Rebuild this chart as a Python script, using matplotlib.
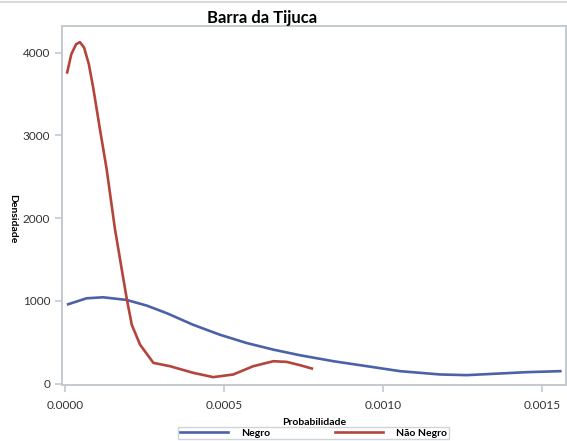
import matplotlib
matplotlib.use("Agg")
import matplotlib.pyplot as plt
from matplotlib.lines import Line2D

# Negro (blue) density curve
negro_x = [0.00001, 0.000068, 0.00012, 0.000194, 0.000257, 0.00032, 0.000403,
           0.000487, 0.000571, 0.000655, 0.000739, 0.000844, 0.000949,
           0.001053, 0.001179, 0.001263, 0.001347, 0.001452, 0.001557]
negro_y = [960, 1032, 1044, 1012, 944, 852, 712, 592, 492, 412, 344, 272,
           212, 152, 112, 104, 120, 140, 152]

# Nao Negro (red) density curve
nao_x = [0.000007, 0.00002, 0.000035, 0.000047, 0.00006, 0.000075, 0.000089,
         0.00011, 0.000131, 0.000157, 0.000178, 0.000194, 0.00021, 0.000236,
         0.000278, 0.00033, 0.000403, 0.000466, 0.000529, 0.000592,
         0.000655, 0.000697, 0.000739, 0.000776]
nao_y = [3760, 3980, 4100, 4125, 4060, 3860, 3570, 3072, 2592, 1872, 1392,
         1032, 712, 472, 252, 212, 132, 80, 112, 212, 272, 264, 224, 184]

x_ticks = [0.0, 0.0005, 0.0010, 0.0015]
x_ticklabels = ["0.0000", "0.0005", "0.0010", "0.0015"]
y_ticks = [0, 1000, 2000, 3000, 4000]

blue = "#4b62a9"
red = "#b3453c"
grey = "#c3cacd"
font = "Lato"

fig = plt.figure(figsize=(5.67, 4.41), dpi=100)
ax = fig.add_axes([0.1093, 0.127, 0.889, 0.814])

ax.plot(negro_x, negro_y, color=blue, lw=1.9, label="Negro")
ax.plot(nao_x, nao_y, color=red, lw=1.9, label="Não Negro")

ax.set_xlim(-0.0000094, 0.001575)
ax.set_ylim(-15, 4320)
ax.set_xticks(x_ticks)
ax.set_xticklabels(x_ticklabels)
ax.set_yticks(y_ticks)

for s in ax.spines.values():
    s.set_color(grey)
    s.set_linewidth(1.4)
ax.tick_params(colors=grey, length=5, width=1.2, labelcolor="#333333",
               labelsize=8.5)
ax.tick_params(axis="x", pad=6)
for lab in ax.get_xticklabels() + ax.get_yticklabels():
    lab.set_family(font)

ax.set_xlabel("Probabilidade", family=font, fontweight="bold", fontsize=7.5,
              labelpad=5)
fig.text(0.023, 0.505, "Densidade", rotation=270, family=font,
         fontweight="bold", fontsize=7.5, ha="center", va="center")

fig.text(0.462, 0.959, "Barra da Tijuca", family=font, fontweight="bold",
         fontsize=12, ha="center", va="center")

# thin frame line at the very top
fig.add_artist(Line2D([0, 1], [0.996, 0.996], color="#d8dcde", lw=1.5,
                      transform=fig.transFigure))

fig.legend(loc="upper center", bbox_to_anchor=(0.553, 1 - 427 / 441),
           ncol=2, frameon=True, fancybox=False, edgecolor=grey,
           handlelength=4.6, columnspacing=6.2, handletextpad=1.3,
           borderpad=0.15, borderaxespad=0,
           prop={"family": font, "weight": "bold", "size": 7.5})

fig.savefig("out.png", dpi=100)
